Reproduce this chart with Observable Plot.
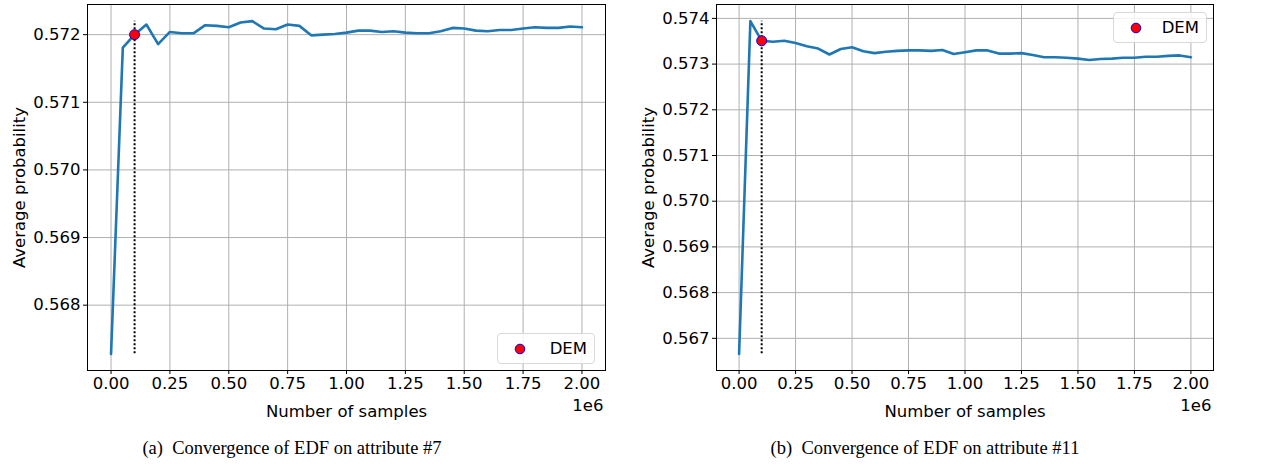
<!DOCTYPE html>
<html><head><meta charset="utf-8">
<script src="https://cdn.jsdelivr.net/npm/d3@7"></script>
<script src="https://cdn.jsdelivr.net/npm/@observablehq/plot@0.6"></script>
<style>
body{margin:0;background:#fff;}
#wrap{position:relative;width:1264px;height:470px;overflow:hidden;font-family:"DejaVu Sans";background:#fff;}
.panel{position:absolute;top:0;}
.legend{position:absolute;box-sizing:border-box;border:1px solid #d9d9d9;border-radius:4px;background:rgba(255,255,255,0.8);font-size:16.5px;color:#000;}
.legend svg{position:absolute;left:16px;top:9px;}
.legend span{position:absolute;right:7px;top:5px;}
.caption{position:absolute;top:438px;font-family:"Liberation Serif";font-size:18.5px;transform:translateX(-50%);white-space:pre;color:#000;}
</style></head><body>
<div id="wrap"></div>
<script>
const samples = [0,50000,100000,150000,200000,250000,300000,350000,400000,450000,500000,550000,600000,650000,700000,750000,800000,850000,900000,950000,1000000,1050000,1100000,1150000,1200000,1250000,1300000,1350000,1400000,1450000,1500000,1550000,1600000,1650000,1700000,1750000,1800000,1850000,1900000,1950000,2000000];
const probA = [0.56728,0.57181,0.57200,0.57215,0.57186,0.57204,0.57202,0.57202,0.57214,0.57213,0.57211,0.57218,0.57220,0.57209,0.57208,0.57215,0.57213,0.57199,0.57200,0.57201,0.57203,0.57206,0.57206,0.57204,0.57205,0.57203,0.57202,0.57202,0.57205,0.57210,0.57209,0.57206,0.57205,0.57207,0.57207,0.57209,0.57211,0.57210,0.57210,0.57212,0.57211];
const probB = [0.56666,0.57394,0.57351,0.57349,0.57351,0.57346,0.57339,0.57334,0.57321,0.57333,0.57337,0.57328,0.57324,0.57327,0.57329,0.57330,0.57330,0.57329,0.57331,0.57322,0.57326,0.57330,0.57330,0.57323,0.57323,0.57324,0.57320,0.57315,0.57315,0.57314,0.57312,0.57309,0.57311,0.57312,0.57314,0.57314,0.57316,0.57316,0.57318,0.57319,0.57315];
const demSamples = 100000;
const demA = 0.57200;
const demB = 0.57351;
const xTicks = [0,250000,500000,750000,1000000,1250000,1500000,1750000,2000000];
const yTicksA = [0.568,0.569,0.570,0.571,0.572];
const yTicksB = [0.567,0.568,0.569,0.570,0.571,0.572,0.573,0.574];
const legendLabel = "DEM";
const xLabel = "Number of samples";
const yLabel = "Average probability";
const xOffsetLabel = "1e6";
const captionA = "(a)  Convergence of EDF on attribute #7";
const captionB = "(b)  Convergence of EDF on attribute #11";

function panel(vals, yTicks, demY, width, mLeft, mRight) {
  const data = samples.map((n, i) => ({n, p: vals[i]}));
  const [lo, hi] = d3.extent(vals);
  const pad = (hi - lo) * 0.05;
  const xs = d3.extent(samples); const xpad = (xs[1]-xs[0])*0.05;
  return Plot.plot({
    width, height: 430, marginLeft: mLeft, marginRight: mRight, marginTop: 4, marginBottom: 60,
    style: {fontFamily: "DejaVu Sans", fontSize: "16.5px", background: "white", color: "black", overflow: "visible"},
    x: {domain: [xs[0]-xpad, xs[1]+xpad], ticks: xTicks, tickFormat: d => (d/1e6).toFixed(2), label: xLabel, labelAnchor: "center", labelArrow: "none", labelOffset: 46, tickSize: 4, tickPadding: 3},
    y: {domain: [lo - pad, hi + pad], ticks: yTicks, tickFormat: ".3f", label: yLabel, labelAnchor: "center", labelArrow: "none", labelOffset: 74, tickSize: 4, tickPadding: 3},
    marks: [
      Plot.gridX(xTicks, {stroke: "#b0b0b0", strokeOpacity: 1, strokeWidth: 1}),
      Plot.gridY(yTicks, {stroke: "#b0b0b0", strokeOpacity: 1, strokeWidth: 1}),
      Plot.ruleX([demSamples], {y1: lo, y2: hi, stroke: "black", strokeWidth: 2, strokeDasharray: "2,2"}),
      Plot.line(data, {x: "n", y: "p", stroke: "#1f77b4", strokeWidth: 2.6}),
      Plot.dot([{n: demSamples, p: demY}], {x: "n", y: "p", r: 5, fill: "red", stroke: "blue", strokeWidth: 1}),
      Plot.frame({stroke: "black", strokeWidth: 1}),
      Plot.text([xOffsetLabel], {frameAnchor: "bottom-right", text: d => d, dy: 40, dx: -2, textAnchor: "end", fontSize: 16.5})
    ]
  });
}
const wrap = document.getElementById("wrap");
function place(el, left) { const d = document.createElement("div"); d.className = "panel"; d.style.left = left + "px"; d.appendChild(el); wrap.appendChild(d); }
place(panel(probA, yTicksA, demA, 630, 87, 25), 0);
place(panel(probB, yTicksB, demB, 634, 86, 51), 630);

function legend(left, top, w, h) {
  const d = document.createElement("div"); d.className = "legend";
  Object.assign(d.style, {left: left+"px", top: top+"px", width: w+"px", height: h+"px"});
  d.innerHTML = `<svg width="12" height="12"><circle cx="6" cy="6" r="4.8" fill="red" stroke="blue" stroke-width="1"/></svg><span>${legendLabel}</span>`;
  wrap.appendChild(d);
}
legend(497, 333, 98, 31);
legend(1113, 12, 94, 31);
function caption(text, cx) { const d = document.createElement("div"); d.className = "caption"; d.style.left = cx+"px"; d.textContent = text; wrap.appendChild(d); }
caption(captionA, 292);
caption(captionB, 925);
</script>
</body></html>
